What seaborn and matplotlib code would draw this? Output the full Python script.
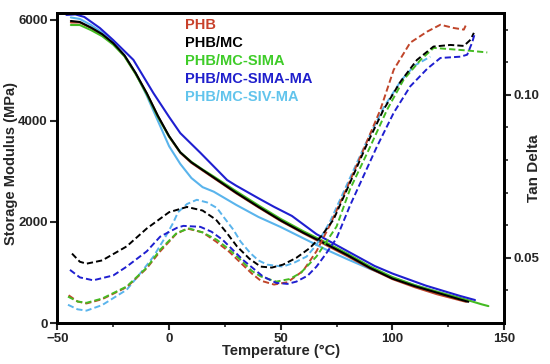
import pandas as pd
import matplotlib
matplotlib.use("Agg")
import matplotlib.pyplot as plt
import seaborn as sns
from matplotlib.ticker import FixedLocator, FormatStrFormatter

# ---- series names and colours
names = ["PHB", "PHB/MC", "PHB/MC-SIMA", "PHB/MC-SIMA-MA", "PHB/MC-SIV-MA"]
colors = ["#c0452a", "#000000", "#44bb22", "#1f1fd0", "#5ab4ec"]
label_colors = ["#c8402a", "#000000", "#3ecc28", "#1f1fcc", "#62c4ec"]

# ---- storage modulus (MPa), solid lines
t_e_phb = [-44, -40, -35, -30, -25, -20, -15, -10, -5, 0, 5, 10, 15, 20, 30, 40, 50, 60, 70, 80, 90, 100, 110, 120, 133]
e_phb = [5950, 5950, 5840, 5710, 5530, 5290, 4940, 4540, 4090, 3690, 3370, 3170, 3020, 2870, 2570, 2290, 2020, 1780, 1550, 1320, 1080, 870, 710, 570, 420]

t_e_mc = [-44, -40, -35, -30, -25, -20, -15, -10, -5, 0, 5, 10, 15, 20, 30, 40, 50, 60, 70, 80, 90, 100, 110, 120, 130, 134]
e_mc = [5980, 5960, 5850, 5720, 5540, 5300, 4950, 4550, 4100, 3700, 3380, 3180, 3030, 2880, 2580, 2300, 2030, 1790, 1570, 1340, 1090, 880, 730, 600, 470, 420]

t_e_sima = [-44, -40, -35, -30, -25, -20, -15, -10, -5, 0, 5, 10, 15, 20, 30, 40, 50, 60, 70, 80, 90, 100, 110, 120, 130, 134, 140, 143]
e_sima = [5900, 5900, 5800, 5680, 5510, 5280, 4930, 4530, 4080, 3690, 3380, 3190, 3040, 2900, 2610, 2330, 2060, 1820, 1600, 1370, 1120, 910, 750, 620, 500, 450, 370, 335]

t_e_simama = [-46, -42, -38, -31, -25, -16, -7, 0, 5, 14, 20, 26, 30, 40, 47, 55, 66, 80, 92, 100, 115, 130, 137]
e_simama = [6100, 6110, 6060, 5840, 5600, 5210, 4550, 4080, 3760, 3370, 3100, 2830, 2720, 2470, 2300, 2120, 1760, 1420, 1130, 980, 740, 540, 455]

t_e_sivma = [-44, -40, -35, -30, -25, -20, -15, -10, -5, 0, 5, 10, 15, 20, 30, 40, 50, 60, 70, 80, 90, 100, 110, 120, 131]
e_sivma = [6050, 6020, 5900, 5750, 5560, 5300, 4950, 4500, 4000, 3500, 3150, 2870, 2690, 2600, 2340, 2100, 1900, 1680, 1460, 1260, 1070, 900, 750, 620, 475]

# ---- tan delta, dashed lines
t_d_phb = [-45, -41, -37, -30, -19, -10, -4, 3, 8, 15, 21, 27, 32, 37, 41, 47, 53, 60, 66, 72, 80, 87, 94.6, 100.6, 108, 115.6, 121.5, 127.5, 132, 133]
d_phb = [0.0385, 0.0366, 0.0360, 0.0373, 0.0410, 0.0468, 0.0520, 0.0572, 0.0590, 0.0578, 0.0550, 0.0518, 0.0485, 0.0452, 0.0430, 0.0418, 0.0425, 0.0460, 0.0520, 0.0600, 0.0720, 0.0831, 0.0954, 0.1077, 0.1160, 0.1194, 0.1215, 0.1205, 0.1200, 0.1215]

t_d_mc = [-43.5, -40, -37, -30, -19, -10, 0, 8, 15, 21, 26, 30.4, 36, 41, 46, 51, 57, 63, 68, 73.6, 81, 88.7, 96, 103.6, 111, 118.4, 126, 132, 135, 136.5]
d_mc = [0.0513, 0.0488, 0.0482, 0.0492, 0.0535, 0.0590, 0.0640, 0.0656, 0.0645, 0.0617, 0.0575, 0.0535, 0.0497, 0.0473, 0.0470, 0.0479, 0.0500, 0.0530, 0.0565, 0.0617, 0.0730, 0.0850, 0.0954, 0.1040, 0.1107, 0.1148, 0.1153, 0.1150, 0.1169, 0.1190]

t_d_sima = [-45.3, -41, -37, -30, -19, -10, -4, 3.5, 9, 15, 21.4, 27, 32, 37, 41, 48, 54, 59, 66, 70, 75, 81, 90, 97.6, 105, 112.6, 118.5, 126, 133.5, 142.5]
d_sima = [0.0381, 0.0366, 0.0362, 0.0375, 0.0412, 0.0470, 0.0525, 0.0577, 0.0590, 0.0578, 0.0555, 0.0525, 0.0494, 0.0460, 0.0443, 0.0427, 0.0435, 0.0454, 0.0504, 0.0545, 0.0596, 0.0710, 0.0840, 0.0954, 0.1046, 0.1107, 0.1144, 0.1140, 0.1136, 0.1130]

t_d_simama = [-44.4, -40, -34, -25, -19, -10, -4, 3.5, 6.4, 14, 19, 24, 33, 42, 48, 53, 57, 62, 66, 70, 75, 81, 87, 93, 100.6, 108, 115.6, 121.5, 130.5, 133.5, 135.7, 137]
d_simama = [0.0463, 0.0440, 0.0431, 0.0446, 0.0473, 0.0520, 0.0565, 0.0592, 0.0598, 0.0595, 0.0580, 0.0555, 0.0494, 0.0443, 0.0423, 0.0420, 0.0427, 0.0445, 0.0473, 0.0510, 0.0560, 0.0660, 0.0750, 0.0840, 0.0945, 0.1026, 0.1080, 0.1113, 0.1117, 0.1123, 0.1160, 0.1190]

t_d_sivma = [-45.3, -41, -37, -30, -19, -12, -7, -2, 1.8, 4, 8, 12.4, 17, 21.4, 25, 28.8, 32, 36.3, 40, 44, 51, 56, 61.6, 66, 72, 80, 88, 96, 104, 110, 117]
d_sivma = [0.0356, 0.0342, 0.0338, 0.0355, 0.0402, 0.0460, 0.0504, 0.0560, 0.0607, 0.0640, 0.0665, 0.0678, 0.0670, 0.0653, 0.0620, 0.0586, 0.0550, 0.0515, 0.0492, 0.0479, 0.0473, 0.0485, 0.0504, 0.0540, 0.0610, 0.0730, 0.0850, 0.0960, 0.1045, 0.1090, 0.1117]

storage = [(t_e_phb, e_phb), (t_e_mc, e_mc), (t_e_sima, e_sima), (t_e_simama, e_simama), (t_e_sivma, e_sivma)]
tandelta = [(t_d_phb, d_phb), (t_d_mc, d_mc), (t_d_sima, d_sima), (t_d_simama, d_simama), (t_d_sivma, d_sivma)]

sns.set_style("ticks")
plt.rcParams['font.family'] = ['Liberation Sans', 'DejaVu Sans']
plt.rcParams['font.weight'] = 'bold'

fig = plt.figure(figsize=(5.5, 3.64), dpi=100)
ax = fig.add_axes([0.1045, 0.1126, 0.8119, 0.8517])
ax2 = ax.twinx()

# draw order: cyan first, blue on top
order = [4, 0, 2, 1, 3]
for i in order:
    t, v = storage[i]
    sns.lineplot(x=t, y=v, ax=ax, color=colors[i], lw=1.5, sort=False, estimator=None)
for i in order:
    t, v = tandelta[i]
    sns.lineplot(x=t, y=v, ax=ax2, color=colors[i], lw=1.4, sort=False, estimator=None,
                 linestyle=(0, (3.2, 1.6)))

ax.set_xlim(-50, 150)
ax.set_ylim(0, 6138)
ax2.set_ylim(0.030, 0.1251)

ax.set_xticks([-50, 0, 50, 100, 150])
ax.xaxis.set_minor_locator(FixedLocator([-25, 25, 75, 125]))
ax.set_yticks([0, 2000, 4000, 6000])
ax2.set_yticks([0.05, 0.10])
ax2.yaxis.set_major_formatter(FormatStrFormatter('%.2f'))
ax2.yaxis.set_minor_locator(FixedLocator([0.04, 0.06, 0.07, 0.08, 0.09, 0.11, 0.12]))

for a in (ax, ax2):
    for s in a.spines.values():
        s.set_linewidth(2)
        s.set_color('black')
    a.tick_params(which='major', direction='out', length=5, width=1.5, labelsize=9.5, pad=2)
    a.tick_params(which='minor', direction='out', length=3, width=1.2)
for lab in ax.get_xticklabels() + ax.get_yticklabels() + ax2.get_yticklabels():
    lab.set_fontweight('bold')

ax.set_xlabel('Temperature (°C)', fontsize=10.5, fontweight='bold')
ax.set_ylabel('Storage Modulus (MPa)', fontsize=10.5, fontweight='bold')
ax2.set_ylabel('Tan Delta', fontsize=11, fontweight='bold')
ax.xaxis.set_label_coords(0.5, -0.068)
ax.yaxis.set_label_coords(-0.088, 0.516)
ax2.yaxis.set_label_coords(1.052, 0.50)

# coloured text legend
leg_y = [0.961, 0.903, 0.845, 0.787, 0.729]
for name, c, y in zip(names, label_colors, leg_y):
    ax.text(0.2856, y, name, transform=ax.transAxes, color=c, fontsize=10.5,
            fontweight='bold', va='center', ha='left')

fig.savefig('out.png', dpi=100)
